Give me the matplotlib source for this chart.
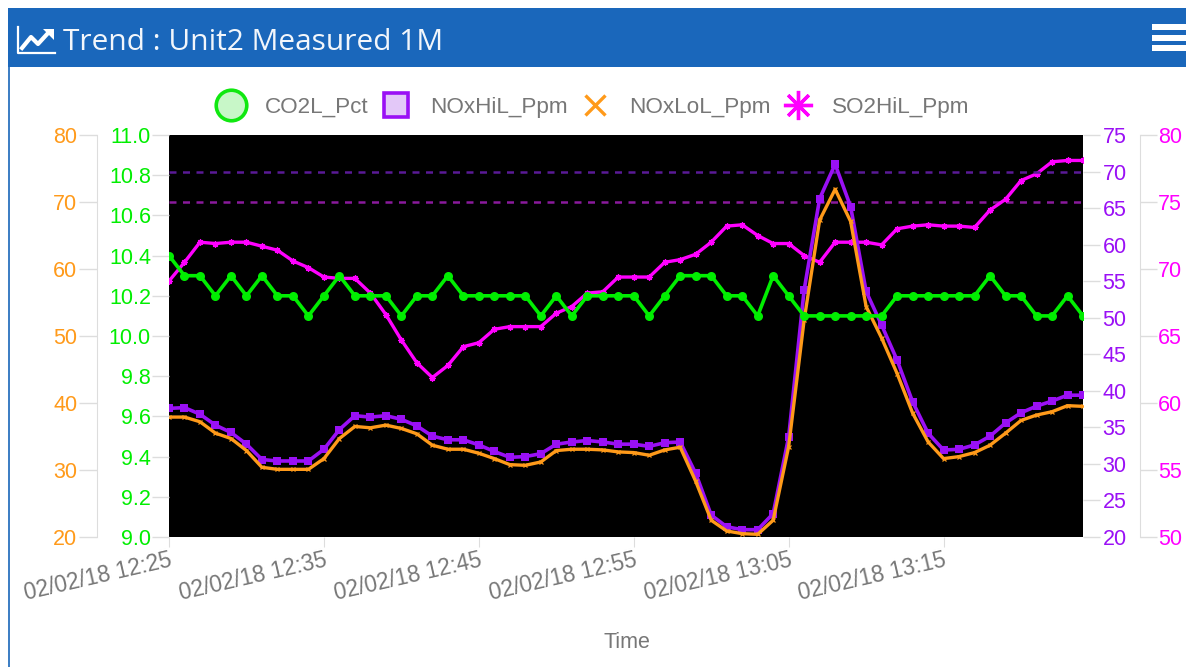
import matplotlib
matplotlib.use('Agg')
import matplotlib.pyplot as plt
from matplotlib.lines import Line2D
from matplotlib.patches import Rectangle

W, H = 1186, 667
plt.rcParams['font.family'] = ['Liberation Sans', 'DejaVu Sans']

co2 = [10.4, 10.3, 10.3, 10.2, 10.3, 10.2, 10.3, 10.2, 10.2, 10.1,
       10.2, 10.3, 10.2, 10.2, 10.2, 10.1, 10.2, 10.2, 10.3, 10.2,
       10.2, 10.2, 10.2, 10.2, 10.1, 10.2, 10.1, 10.2, 10.2, 10.2,
       10.2, 10.1, 10.2, 10.3, 10.3, 10.3, 10.2, 10.2, 10.1, 10.3,
       10.2, 10.1, 10.1, 10.1, 10.1, 10.1, 10.1, 10.2, 10.2, 10.2,
       10.2, 10.2, 10.2, 10.3, 10.2, 10.2, 10.1, 10.1, 10.2, 10.1]
nox_hi = [37.6, 37.7, 36.8, 35.3, 34.3, 32.7, 30.6, 30.4, 30.4, 30.4,
          32.0, 34.7, 36.6, 36.4, 36.6, 36.1, 35.2, 33.8, 33.3, 33.3,
          32.6, 31.7, 30.9, 31.0, 31.4, 32.7, 33.0, 33.2, 33.0, 32.7,
          32.7, 32.4, 32.9, 33.0, 28.7, 23.0, 21.4, 21.0, 21.0, 23.2,
          33.7, 53.8, 66.3, 71.0, 65.2, 53.6, 49.0, 44.2, 38.5, 34.2,
          31.9, 32.0, 32.6, 33.8, 35.6, 37.0, 37.9, 38.6, 39.4, 39.4]
nox_lo = [37.9, 37.9, 37.2, 35.5, 34.7, 32.9, 30.4, 30.1, 30.1, 30.1,
          31.7, 34.7, 36.5, 36.3, 36.7, 36.2, 35.4, 33.7, 33.1, 33.1,
          32.5, 31.7, 30.8, 30.7, 31.2, 32.9, 33.1, 33.1, 33.0, 32.7,
          32.6, 32.2, 33.0, 33.4, 28.3, 22.5, 20.9, 20.5, 20.4, 22.5,
          33.5, 52.4, 67.3, 71.9, 67.1, 54.4, 49.7, 44.4, 38.5, 34.2,
          31.7, 32.0, 32.6, 33.7, 35.5, 37.4, 38.2, 38.7, 39.6, 39.5]
so2 = [69.1, 70.5, 72.0, 71.9, 72.0, 72.0, 71.7, 71.4, 70.6, 70.1,
       69.4, 69.3, 69.3, 68.2, 66.6, 64.7, 63.0, 61.9, 62.8, 64.2,
       64.5, 65.5, 65.7, 65.7, 65.7, 66.7, 67.2, 68.2, 68.3, 69.4,
       69.4, 69.4, 70.5, 70.7, 71.1, 72.0, 73.2, 73.3, 72.5, 71.9,
       71.9, 71.0, 70.5, 72.0, 72.0, 72.0, 71.8, 73.0, 73.2, 73.3,
       73.2, 73.2, 73.1, 74.4, 75.2, 76.6, 77.1, 78.0, 78.1, 78.1]
minutes = list(range(len(co2)))
tick_minutes = [0, 10, 20, 30, 40, 50]
tick_labels = ['02/02/18 12:25', '02/02/18 12:35', '02/02/18 12:45',
               '02/02/18 12:55', '02/02/18 13:05', '02/02/18 13:15']
nox_limit = 70
so2_limit = 75

GREEN, PURPLE, ORANGE, MAGENTA = '#00ee00', '#9a10f5', '#ff9a1a', '#ff00ff'
GRAY = '#777777'
AXIS = '#dddddd'


def fx(x):
    return x / W


def fy(y):
    return 1 - y / H


def pline(xs, ys, **kw):
    fig.add_artist(Line2D([fx(x) for x in xs], [fy(y) for y in ys], **kw))


def prect(x0, y0, x1, y1, color):
    fig.add_artist(Rectangle((fx(x0), fy(y1)), (x1 - x0) / W, (y1 - y0) / H,
                             color=color, lw=0, transform=fig.transFigure))


fig = plt.figure(figsize=(W / 100, H / 100), dpi=100, facecolor='white')

# panel header
prect(8, 8, W, 67, '#1a67bb')
prect(8, 67, 10, H, '#3f7fc4')
for y0, y1 in [(24, 30), (35, 41), (45, 51)]:
    prect(1152, y0, 1186, y1, 'white')
pline([18, 18, 55], [27, 53, 53], color='white', lw=1.6)
pline([22, 31, 38, 49], [48, 37, 44, 32], color='white', lw=3)
fig.add_artist(plt.Polygon([[fx(43), fy(29)], [fx(54), fy(29)], [fx(54), fy(40)]],
                           color='white', lw=0, transform=fig.transFigure))
fig.text(fx(63), fy(43), 'Trend : Unit2 Measured 1M', color='#f2f6fb', fontsize=21.5,
         family='Open Sans', va='center', ha='left')

ax = fig.add_axes([fx(169), fy(537), 914 / W, 402 / H])
ax_lo = ax.twinx()
ax_hi = ax.twinx()
ax_so2 = ax.twinx()

# green on top, magenta at the bottom with the black background
ax_so2.set_zorder(1)
ax_hi.set_zorder(2)
ax_lo.set_zorder(3)
ax.set_zorder(4)
ax.patch.set_visible(False)
ax_lo.patch.set_visible(False)
ax_hi.patch.set_visible(False)
ax_so2.patch.set_visible(True)
ax_so2.set_facecolor('black')

ax_so2.axhline(so2_limit, color='#8a1a9c', lw=1.8, dashes=(2.8, 2.6))
ax_hi.axhline(nox_limit, color='#5a1a96', lw=1.8, dashes=(2.8, 2.6))

ax.plot(minutes, co2, color=GREEN, lw=2.6, marker='o', ms=6.5, mew=0)
ax_hi.plot(minutes, nox_hi, color=PURPLE, lw=2.6, marker='s', ms=5.5, mew=0)
ax_lo.plot(minutes, nox_lo, color=ORANGE, lw=2.4, marker='x', ms=3.5, mew=0.9)
ax_so2.plot(minutes, so2, color=MAGENTA, lw=2.4, marker=(8, 2, 0), ms=4.5, mew=0.9)

ax.set_xlim(0, 59)
ax.set_ylim(9.0, 11.0)
ax_lo.set_ylim(20, 80)
ax_hi.set_ylim(20, 75)
ax_so2.set_ylim(50, 80)

ax.set_yticks([9.0 + 0.2 * i for i in range(11)])
ax.set_yticklabels(['%.1f' % (9.0 + 0.2 * i) for i in range(11)])
ax_lo.set_yticks(range(20, 81, 10))
ax_hi.set_yticks(range(20, 76, 5))
ax_so2.set_yticks(range(50, 81, 5))

for a in (ax, ax_lo, ax_hi, ax_so2):
    for s in a.spines.values():
        s.set_visible(False)

for a, color, side, offset, length, pad in [(ax, GREEN, 'left', 0, 12, 1),
                                            (ax_lo, ORANGE, 'left', 52, 13, 1),
                                            (ax_hi, PURPLE, 'right', 0, 12, 2),
                                            (ax_so2, MAGENTA, 'right', 41, 12, 1)]:
    a.yaxis.set_ticks_position(side)
    a.yaxis.set_label_position(side)
    a.spines[side].set_visible(offset > 0)
    a.spines[side].set_position(('outward', offset))
    a.spines[side].set_color(AXIS)
    a.tick_params(axis='y', colors=color, labelsize=15.5, length=length, pad=pad,
                  color=AXIS, width=1)

ax.set_xticks(tick_minutes)
ax.set_xticklabels(tick_labels, rotation=13, ha='right', rotation_mode='anchor',
                   fontsize=16.3, color=GRAY)
ax.tick_params(axis='x', length=7, color=AXIS, pad=1)
fig.text(fx(627), fy(642), 'Time', color=GRAY, fontsize=15.5, ha='center', va='center')

handles = [
    Line2D([], [], ls='none', marker='o', ms=22, mfc='#c8f7c8', mec='#10e810', mew=2.6),
    Line2D([], [], ls='none', marker='s', ms=17, mfc='#e3c8f8', mec=PURPLE, mew=2.6),
    Line2D([], [], ls='none', marker='x', ms=15, mec=ORANGE, mew=2.4),
    Line2D([], [], ls='none', marker=(8, 2, 0), ms=21, mec=MAGENTA, mew=2.4),
]
fig.legend(handles, ['CO2L_Pct', 'NOxHiL_Ppm', 'NOxLoL_Ppm', 'SO2HiL_Ppm'],
           ncol=4, loc='center', bbox_to_anchor=(fx(594.5), fy(107)), frameon=False,
           fontsize=16.2, labelcolor=GRAY, handlelength=1, handletextpad=1.0,
           columnspacing=0.73, borderpad=0)

fig.savefig('out.png', dpi=100)
